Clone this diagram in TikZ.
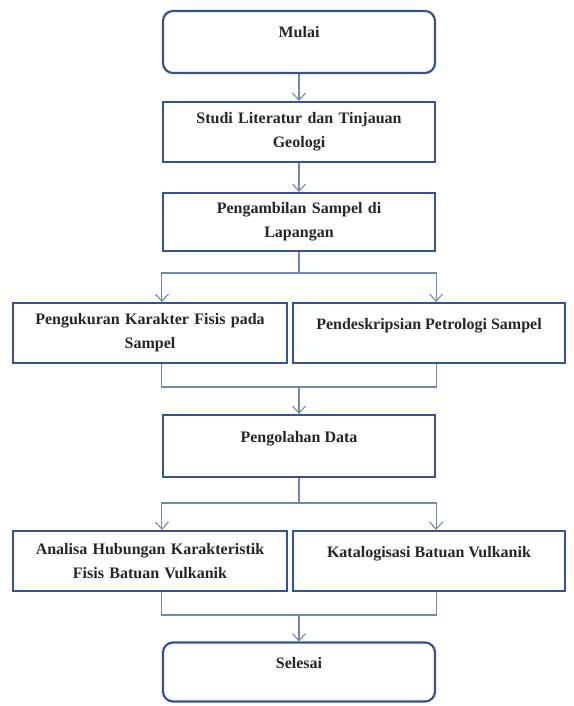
\documentclass[tikz,border=0pt]{standalone}
\usepackage{fontspec}
\setmainfont{Liberation Serif}
\usepackage{tikz}
\usetikzlibrary{calc,arrows.meta}
\definecolor{boxblue}{RGB}{52,84,142}
\definecolor{lineblue}{RGB}{112,136,176}
\tikzset{
  box/.style={draw=boxblue,line width=2.2pt,fill=white,align=center,
    font=\fontsize{16}{24}\selectfont\bfseries,inner sep=2pt,text=black!85},
  term/.style={box,rounded corners=10pt},
  single/.style={text height=12pt,text depth=20pt},
  link/.style={draw=lineblue,line width=1.1pt},
  arr/.style={link,-{Straight Barb[length=7pt,width=13pt,line width=1.1pt]}}
}
\begin{document}
\begin{tikzpicture}[x=1pt,y=-1pt]
                      \useasboundingbox (0,0) rectangle (573,706);
                      \node[term,single,minimum width=272pt,minimum height=62pt](mulai)at(299,42){Mulai};
                      \node[box,minimum width=272pt,minimum height=60pt,text width=262pt](studi)at(299,132){Studi Literatur dan Tinjauan\\Geologi};
                      \node[box,minimum width=272pt,minimum height=58pt,text width=262pt](ambil)at(299,222){Pengambilan Sampel di\\Lapangan};
                      \node[box,minimum width=274pt,minimum height=60pt,text width=264pt](ukur)at(150,333){Pengukuran Karakter Fisis pada\\Sampel};
                      \node[box,single,minimum width=272pt,minimum height=60pt](desk)at(429,333){Pendeskripsian Petrologi Sampel};
                      \node[box,single,minimum width=272pt,minimum height=62pt](olah)at(299,446){Pengolahan Data};
                      \node[box,minimum width=274pt,minimum height=60pt,text width=264pt](analisa)at(150,561){Analisa Hubungan Karakteristik\\Fisis Batuan Vulkanik};
                      \node[box,single,minimum width=272pt,minimum height=60pt](katalog)at(429,561){Katalogisasi Batuan Vulkanik};
                      \node[term,single,minimum width=272pt,minimum height=59pt](selesai)at(299,672){Selesai};
                      % titik cabang dan titik gabung
                      \coordinate(b1)at(299,273);
                      \coordinate(m1)at(299,387);
                      \coordinate(b2)at(299,503);
                      \coordinate(m2)at(299,615);
                      \draw[arr](mulai)--(studi);
                      \draw[arr](studi)--(ambil);
                      \draw[link](ambil)--(b1);
                      \draw[arr](b1)-|(ambil.west|-ukur.north);
                      \draw[arr](b1)-|(ambil.east|-desk.north);
                      \draw[link](ambil.west|-ukur.south)|-(m1);
                      \draw[link](ambil.east|-desk.south)|-(m1);
                      \draw[arr](m1)--(olah);
                      \draw[link](olah)--(b2);
                      \draw[arr](b2)-|(olah.west|-analisa.north);
                      \draw[arr](b2)-|(olah.east|-katalog.north);
                      \draw[link](olah.west|-analisa.south)|-(m2);
                      \draw[link](olah.east|-katalog.south)|-(m2);
                      \draw[arr](m2)--(selesai);
                  \end{tikzpicture}
\end{document}
